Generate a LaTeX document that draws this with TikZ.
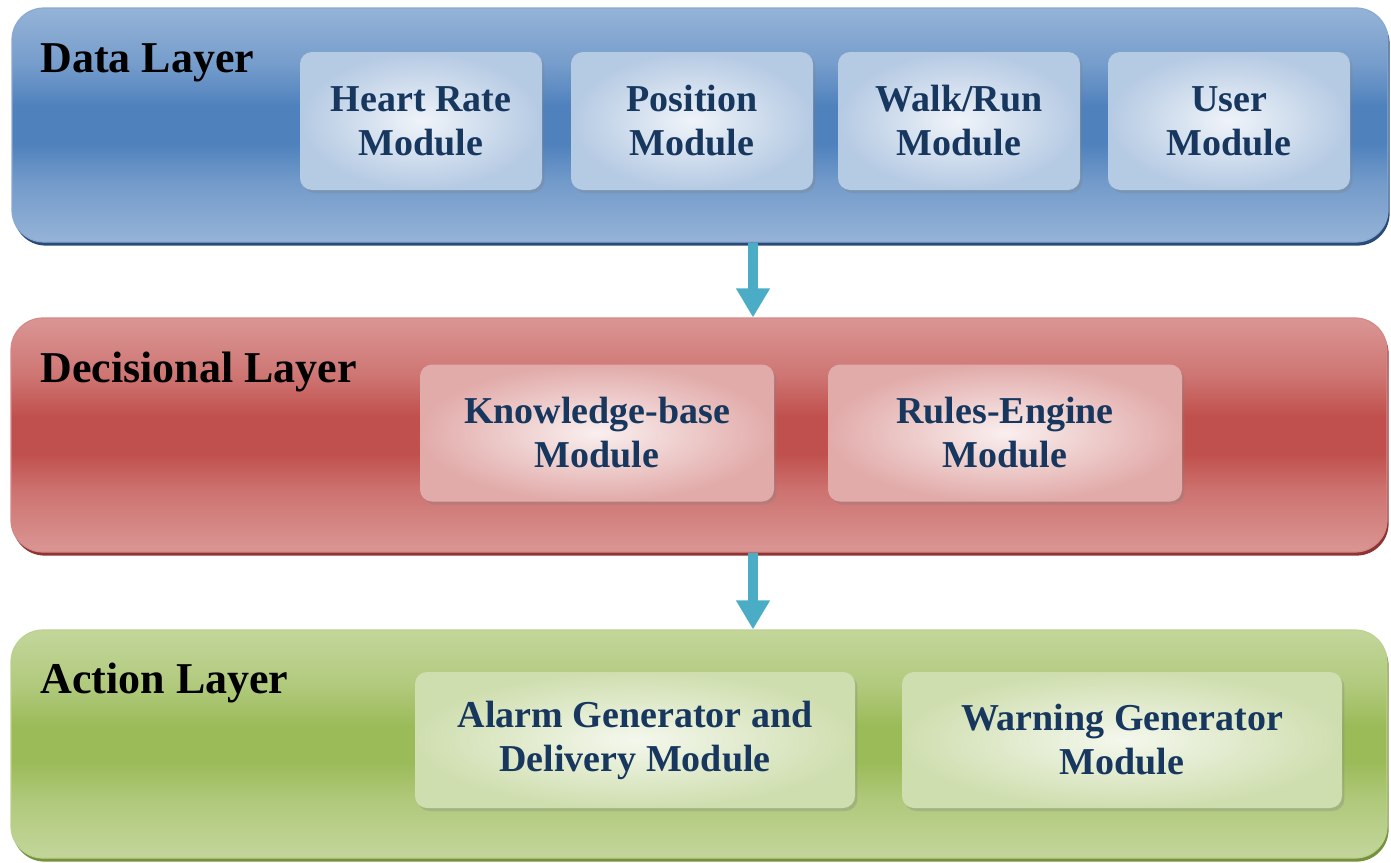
\documentclass[tikz,border=0pt]{standalone}
\usepackage{fontspec}
\setmainfont{Liberation Serif}
\usetikzlibrary{arrows.meta,shadows}

\definecolor{dataLight}{HTML}{95B3D7}
\definecolor{dataMid}{HTML}{4F81BD}
\definecolor{dataEdge}{HTML}{2A4A78}
\definecolor{decLight}{HTML}{DA9694}
\definecolor{decMid}{HTML}{C0504D}
\definecolor{decEdge}{HTML}{8E3432}
\definecolor{actLight}{HTML}{C3D69B}
\definecolor{actMid}{HTML}{9BBB59}
\definecolor{actEdge}{HTML}{76923C}
\definecolor{modText}{HTML}{17375E}
\definecolor{linkBlue}{HTML}{4BACC6}

% vertical band: light at top and bottom, a broad darker stripe in between
\colorlet{bandLight}{dataLight}
\colorlet{bandMid}{dataMid}
\pgfdeclareverticalshading[bandLight,bandMid]{band}{100bp}{
  color(0bp)=(bandLight); color(25bp)=(bandLight);
  color(38bp)=(bandMid!50!bandLight); color(46bp)=(bandMid);
  color(54bp)=(bandMid); color(63bp)=(bandMid!45!bandLight);
  color(75bp)=(bandLight); color(100bp)=(bandLight)}

\begin{document}
\begin{tikzpicture}[
  x=0.5pt,y=-0.5pt,
  layer/.style={
    rounded corners=16pt,
    minimum width=688pt,
    minimum height=117pt,
    inner sep=0pt,
    line width=.6pt
  },
  layerband/.style 2 args={
    /utils/exec={\colorlet{bandLight}{#1}\colorlet{bandMid}{#2}},
    shading=band
  },
  module/.style={
    rounded corners=6pt,
    align=center,
    inner sep=0pt,
    text=modText,
    font=\fontsize{19}{22}\selectfont\bfseries,
    drop shadow={shadow xshift=1.2pt,shadow yshift=-1.5pt,opacity=.3}
  },
  layertitle/.style={
    inner sep=0pt,
    anchor=base west,
    font=\fontsize{22}{26}\selectfont\bfseries
  },
  link/.style={line width=5pt,linkBlue,-{Triangle[width=16pt,length=14.5pt]}}
]
  \useasboundingbox (0,0) rectangle (1391,862);

  % The three layers, each a shaded band with a darker lower edge.
  \node[layer,draw=dataLight!80!dataMid,layerband={dataLight}{dataMid},
    drop shadow={shadow xshift=.8pt,shadow yshift=-1.8pt,opacity=1,fill=dataEdge}]
    (data) at (700,125) {};
  \node[layer,draw=decLight!80!decMid,layerband={decLight}{decMid},
    drop shadow={shadow xshift=.8pt,shadow yshift=-1.8pt,opacity=1,fill=decEdge}]
    (decision) at (699,435) {};
  \node[layer,draw=actLight!80!actMid,minimum height=114pt,layerband={actLight}{actMid},
    drop shadow={shadow xshift=.8pt,shadow yshift=-1.8pt,opacity=1,fill=actEdge}]
    (action) at (699,744) {};

  \node[layertitle] (datatitle) at (40,72) {Data Layer};
  \node[layertitle] (dectitle) at (40,382) {Decisional Layer};
  \node[layertitle] (acttitle) at (40,693) {Action Layer};

  % Data layer modules
  \foreach \name/\x/\txt in {heart/421/{Heart Rate\\Module},
      position/692/{Position\\Module},
      walk/959/{Walk/Run\\Module},
      user/1229/{User\\Module}} {
    \node[module,minimum width=121pt,minimum height=69pt,
      inner color=white!85!dataLight,outer color=dataLight!70!white]
      (\name) at (\x,121) {\txt};
  }

  % Decisional layer modules
  \node[module,minimum width=177pt,minimum height=68.5pt,
    inner color=white!85!decLight,outer color=decLight!80!white]
    (knowledge) at (597,433) {Knowledge-base\\Module};
  \node[module,minimum width=177pt,minimum height=68.5pt,
    inner color=white!85!decLight,outer color=decLight!80!white]
    (rules) at (1005,433) {Rules-Engine\\Module};

  % Action layer modules
  \node[module,minimum width=220pt,minimum height=68pt,
    inner color=white!82!actLight,outer color=actLight!80!white]
    (alarm) at (635,740) {Alarm Generator and\\Delivery Module};
  \node[module,minimum width=220pt,minimum height=68pt,
    inner color=white!82!actLight,outer color=actLight!80!white]
    (warning) at (1122,740) {Warning Generator\\Module};

  % Flow between the layers
  \draw[link] ([xshift=26.5pt]data.south) -- ([xshift=27pt]decision.north);
  \draw[link] ([xshift=27pt]decision.south) -- ([xshift=27pt]action.north);
\end{tikzpicture}
\end{document}
